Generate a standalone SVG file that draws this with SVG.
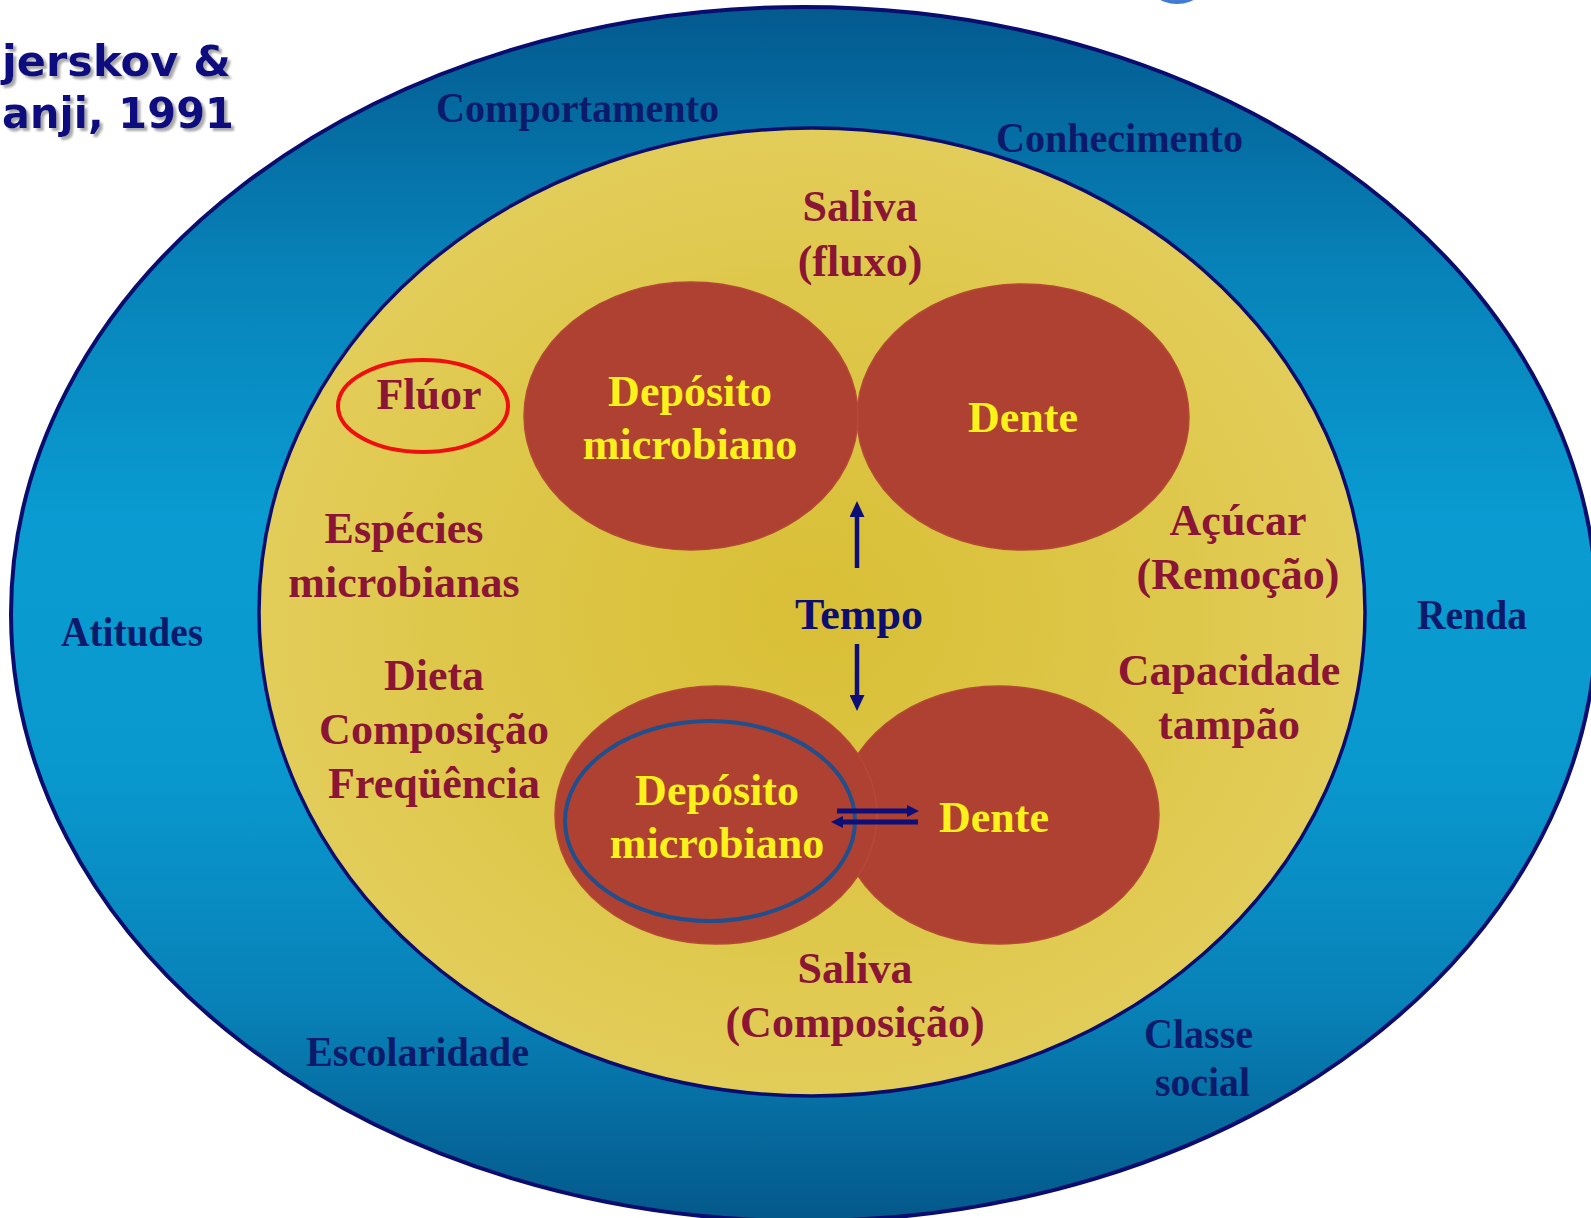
<svg xmlns="http://www.w3.org/2000/svg" width="1591" height="1218" viewBox="0 0 1591 1218">
  <defs>
    <linearGradient id="blueRing" gradientUnits="userSpaceOnUse" x1="0" y1="7" x2="0" y2="1221">
      <stop offset="0" stop-color="#035a8f"/>
      <stop offset="0.22" stop-color="#0783b9"/>
      <stop offset="0.42" stop-color="#099bd1"/>
      <stop offset="0.62" stop-color="#0999cf"/>
      <stop offset="0.82" stop-color="#0882b8"/>
      <stop offset="1" stop-color="#04588a"/>
    </linearGradient>
    <radialGradient id="yellowFill" cx="0.5" cy="0.5" r="0.5">
      <stop offset="0" stop-color="#d9bf36"/>
      <stop offset="0.7" stop-color="#dec84c"/>
      <stop offset="1" stop-color="#e3cd5a"/>
    </radialGradient>
    <radialGradient id="topBlob" cx="0.5" cy="0.3" r="0.7">
      <stop offset="0" stop-color="#7fb0f0"/>
      <stop offset="1" stop-color="#3f78d2"/>
    </radialGradient>
    <filter id="shadow" x="-10%" y="-20%" width="130%" height="150%">
      <feDropShadow dx="3" dy="3" stdDeviation="1.2" flood-color="#a0a0a0" flood-opacity="0.9"/>
    </filter>
    <marker id="headBig" markerUnits="userSpaceOnUse" markerWidth="16" markerHeight="15" refX="1" refY="7.5" orient="auto">
      <path d="M0,0 L16,7.5 L0,15 z" fill="#0c0f78"/>
    </marker>
    <marker id="headSmall" markerUnits="userSpaceOnUse" markerWidth="12" markerHeight="12" refX="1" refY="6" orient="auto">
      <path d="M0,0 L12,6 L0,12 z" fill="#0c0f78"/>
    </marker>
    <style>
      .outerTxt { font-family: "Liberation Serif", "Times New Roman", serif; font-weight: bold; font-size: 42px; fill: #0b1a6b; }
      .marTxt { font-family: "Liberation Serif", "Times New Roman", serif; font-weight: bold; font-size: 44px; fill: #8b1534; text-anchor: middle; }
      .yelTxt { font-family: "Liberation Serif", "Times New Roman", serif; font-weight: bold; font-size: 44px; fill: #fbf21c; text-anchor: middle; }
      .navyTxt { font-family: "Liberation Serif", "Times New Roman", serif; font-weight: bold; font-size: 44px; fill: #0c0f6e; text-anchor: middle; }
      .title { font-family: "DejaVu Sans", Verdana, sans-serif; font-weight: bold; font-size: 43px; fill: #0d0d80; }
      .redNode { fill: #af4132; stroke: #b44a34; stroke-width: 1.5; }
      .arrow { stroke: #0c0f78; fill: none; }
    </style>
  </defs>

  <rect x="0" y="0" width="1591" height="1218" fill="#ffffff"/>

  <g id="top-blob">
    <ellipse cx="1177" cy="-26" rx="33" ry="30" fill="url(#topBlob)"/>
  </g>

  <g id="title">
    <text class="title" x="2" y="76" textLength="229" lengthAdjust="spacingAndGlyphs" filter="url(#shadow)">jerskov &amp;</text>
    <text class="title" x="2" y="128" textLength="232" lengthAdjust="spacingAndGlyphs" filter="url(#shadow)">anji, 1991</text>
  </g>

  <g id="outer-ring">
    <ellipse cx="804" cy="614" rx="793" ry="607" fill="url(#blueRing)" stroke="#0a0d6e" stroke-width="4"/>
    <text class="outerTxt" x="436" y="122" textLength="283" lengthAdjust="spacingAndGlyphs">Comportamento</text>
    <text class="outerTxt" x="996" y="152" textLength="247" lengthAdjust="spacingAndGlyphs">Conhecimento</text>
    <text class="outerTxt" x="61" y="646" textLength="142" lengthAdjust="spacingAndGlyphs">Atitudes</text>
    <text class="outerTxt" x="1417" y="629" textLength="110" lengthAdjust="spacingAndGlyphs">Renda</text>
    <text class="outerTxt" x="306" y="1066" textLength="223" lengthAdjust="spacingAndGlyphs">Escolaridade</text>
    <text class="outerTxt" x="1144" y="1048" textLength="109" lengthAdjust="spacingAndGlyphs">Classe</text>
    <text class="outerTxt" x="1155" y="1096" textLength="95" lengthAdjust="spacingAndGlyphs">social</text>
  </g>

  <g id="inner-ring">
    <ellipse cx="812" cy="612" rx="553" ry="484" fill="url(#yellowFill)" stroke="#0a0d6e" stroke-width="3.5"/>
    <text class="marTxt" x="860" y="221">Saliva</text>
    <text class="marTxt" x="860" y="276">(fluxo)</text>
    <text class="marTxt" x="429" y="409">Flúor</text>
    <text class="marTxt" x="404" y="543">Espécies</text>
    <text class="marTxt" x="404" y="597">microbianas</text>
    <text class="marTxt" x="434" y="690">Dieta</text>
    <text class="marTxt" x="434" y="744">Composição</text>
    <text class="marTxt" x="434" y="798">Freqüência</text>
    <text class="marTxt" x="1238" y="535">Açúcar</text>
    <text class="marTxt" x="1238" y="589">(Remoção)</text>
    <text class="marTxt" x="1229" y="685">Capacidade</text>
    <text class="marTxt" x="1229" y="739">tampão</text>
    <text class="marTxt" x="855" y="983">Saliva</text>
    <text class="marTxt" x="855" y="1037">(Composição)</text>
  </g>

  <g id="fluor-highlight">
    <ellipse cx="423" cy="406" rx="85" ry="46" fill="none" stroke="#ee1010" stroke-width="4"/>
  </g>

  <g id="dente-top">
    <ellipse class="redNode" cx="1023" cy="417" rx="166" ry="133"/>
    <text class="yelTxt" x="1023" y="432">Dente</text>
  </g>

  <g id="deposito-top">
    <ellipse class="redNode" cx="691" cy="416" rx="167" ry="134"/>
    <text class="yelTxt" x="690" y="406">Depósito</text>
    <text class="yelTxt" x="690" y="459">microbiano</text>
  </g>

  <g id="dente-bottom">
    <ellipse class="redNode" cx="999" cy="815" rx="160" ry="129"/>
    <text class="yelTxt" x="994" y="832">Dente</text>
  </g>

  <g id="deposito-bottom">
    <ellipse class="redNode" cx="716" cy="815" rx="161" ry="129"/>
    <text class="yelTxt" x="717" y="805">Depósito</text>
    <text class="yelTxt" x="717" y="858">microbiano</text>
  </g>

  <g id="deposito-highlight">
    <ellipse cx="710" cy="821" rx="145" ry="100" fill="none" stroke="#1f4f8c" stroke-width="4"/>
  </g>

  <g id="tempo">
    <text class="navyTxt" x="859" y="629">Tempo</text>
  </g>

  <g id="connectors">
    <line class="arrow" x1="857" y1="568" x2="857" y2="516" stroke-width="4.5" marker-end="url(#headBig)"/>
    <line class="arrow" x1="857" y1="644" x2="857" y2="696" stroke-width="4.5" marker-end="url(#headBig)"/>
    <line class="arrow" x1="837" y1="811" x2="908" y2="811" stroke-width="5" marker-end="url(#headSmall)"/>
    <line class="arrow" x1="918" y1="822" x2="842" y2="822" stroke-width="5" marker-end="url(#headSmall)"/>
  </g>
</svg>
